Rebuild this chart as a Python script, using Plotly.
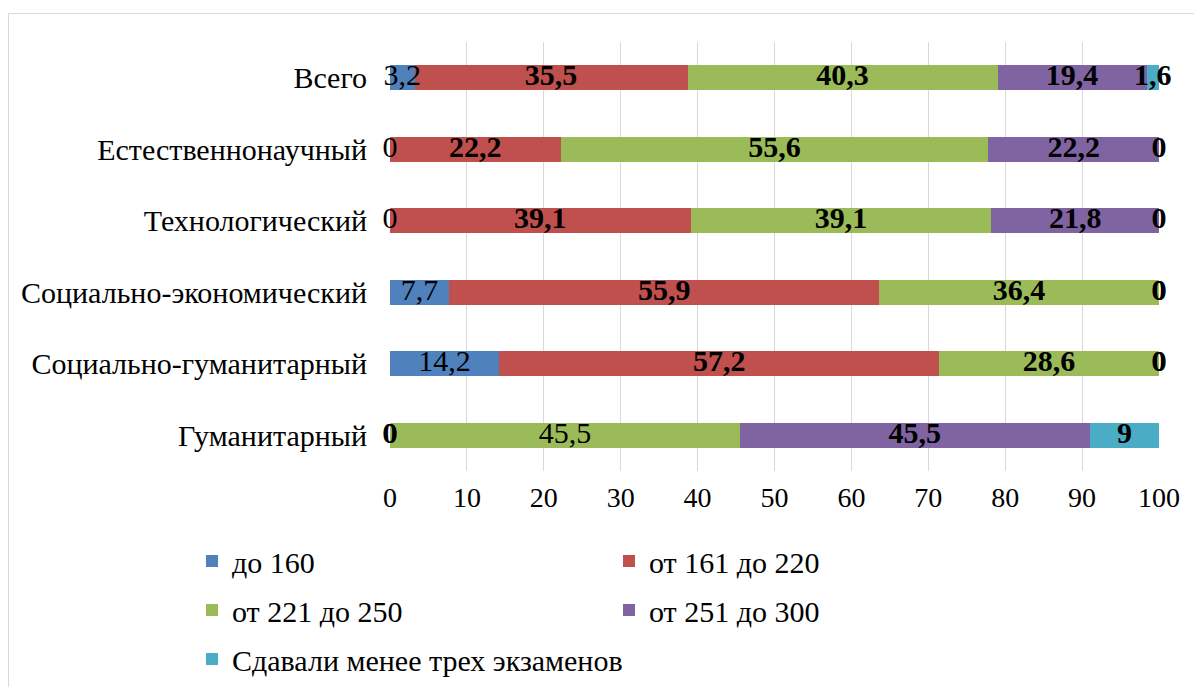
import plotly.graph_objects as go

categories = ["Всего", "Естественнонаучный", "Технологический",
              "Социально-экономический", "Социально-гуманитарный", "Гуманитарный"]
series_names = ["до 160", "от 161 до 220", "от 221 до 250", "от 251 до 300",
                "Сдавали менее трех экзаменов"]
до_160 = [3.2, 0, 0, 7.7, 14.2, 0]
от_161_до_220 = [35.5, 22.2, 39.1, 55.9, 57.2, 0]
от_221_до_250 = [40.3, 55.6, 39.1, 36.4, 28.6, 45.5]
от_251_до_300 = [19.4, 22.2, 21.8, 0, 0, 45.5]
менее_трех = [1.6, 0, 0, 0, 0, 9]
x_ticks = [0, 10, 20, 30, 40, 50, 60, 70, 80, 90, 100]

series_values = [до_160, от_161_до_220, от_221_до_250, от_251_до_300, менее_трех]
colors = ["#4F81BD", "#C0504D", "#9BBB59", "#8064A2", "#4BACC6"]
legends = ["legend", "legend", "legend2", "legend2", "legend3"]

FONT = "Liberation Serif, Times New Roman, serif"


def mkfont(size):
    return dict(family=FONT, size=size, color="black")


def fmt(v):
    return ("%g" % v).replace(".", ",")


def is_bold(si, cat):
    if si == 0:
        return False
    if si == 2 and cat == "Гуманитарный":
        return False
    return True


fig = go.Figure()
for name, vals, col, lg in zip(series_names, series_values, colors, legends):
    fig.add_trace(go.Bar(
        y=categories, x=vals, name=name, orientation="h",
        marker=dict(color=col, line=dict(width=0)),
        legend=lg, hoverinfo="x+name",
    ))

# data labels
cum = [0.0] * len(categories)
for si, vals in enumerate(series_values):
    xs, texts = [], []
    for ci, v in enumerate(vals):
        xs.append(cum[ci] + v / 2.0)
        t = fmt(v)
        texts.append("<b>%s</b>" % t if is_bold(si, categories[ci]) else t)
        cum[ci] += v
    fig.add_trace(go.Scatter(
        y=categories, x=xs, text=texts, mode="text",
        textposition="middle center",
        textfont=mkfont(30),
        showlegend=False, hoverinfo="skip", cliponaxis=False,
    ))

OFF = 8  # page body margin
W, H = 1194, 679
L, T = 390 - OFF, 42 - OFF
pw, ph = 769, 429
R, B = W - L - pw, H - T - ph


def px(xs):
    return (xs - OFF - L) / pw


def py(ys):
    return (T + ph - (ys - OFF)) / ph


def leg(x, y, ew):
    return dict(x=px(x), y=py(y), orientation="h", xanchor="left",
                yanchor="middle", entrywidth=ew, entrywidthmode="pixels",
                traceorder="normal", font=mkfont(30),
                bgcolor="rgba(0,0,0,0)")


fig.update_layout(
    width=W, height=H,
    margin=dict(l=L, r=R, t=T, b=B, autoexpand=False),
    barmode="stack", bargap=0.65,
    paper_bgcolor="white", plot_bgcolor="white",
    font=mkfont(28),
    xaxis=dict(range=[0, 100], tickvals=x_ticks, showgrid=True,
               gridcolor="#D9D9D9", gridwidth=1, zeroline=False,
               showline=False, ticks="", tickfont=mkfont(28),
               ticklabelstandoff=7, fixedrange=True),
    yaxis=dict(autorange="reversed", showgrid=False, zeroline=False,
               showline=False, ticks="", ticklabelstandoff=22,
               tickfont=mkfont(30), fixedrange=True),
    legend=leg(192, 561, 372),
    legend2=leg(192, 610, 372),
    legend3=leg(192, 659, 560),
    shapes=[dict(type="path", xref="paper", yref="paper",
                 path="M %f %f L %f %f L %f %f L %f %f" % (
                     px(8.5), py(700), px(8.5), py(13.5),
                     px(1196.5), py(13.5), px(1196.5), py(700)),
                 line=dict(color="#D9D9D9", width=1))],
)

fig.write_html("out.html")
